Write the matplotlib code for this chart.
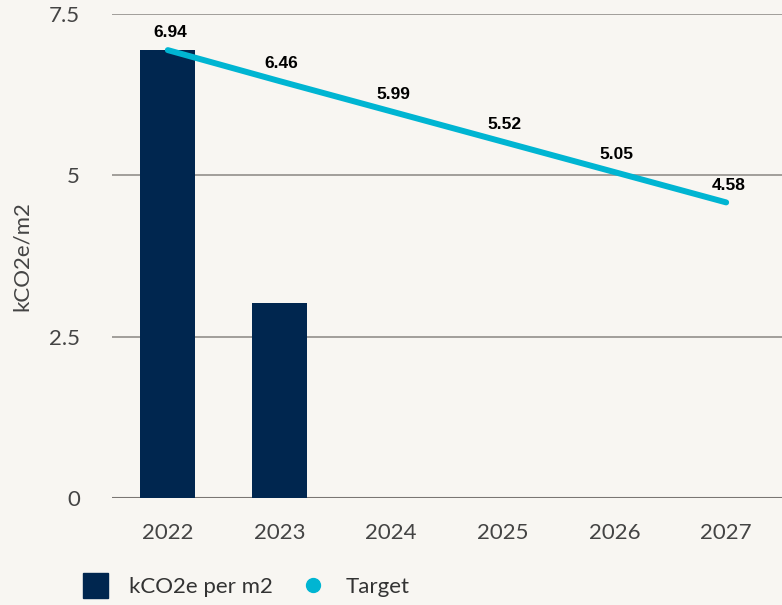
import matplotlib
matplotlib.use("Agg")
import matplotlib.pyplot as plt
from matplotlib.lines import Line2D
import numpy as np

years = ["2022", "2023", "2024", "2025", "2026", "2027"]
actual = [6.94, 3.02]
target = [6.94, 6.46, 5.99, 5.52, 5.05, 4.58]
target_labels = ["6.94", "6.46", "5.99", "5.52", "5.05", "4.58"]

navy = "#00264f"
cyan = "#00b5d2"
bg = "#f8f6f2"

plt.rcParams["font.family"] = ["Lato", "DejaVu Sans"]

fig = plt.figure(figsize=(7.82, 6.05), dpi=100, facecolor=bg)
ax = fig.add_axes([0.1432, 0.1769, 0.8568, 0.80])
ax.set_facecolor(bg)

x = np.arange(len(years))
ax.bar(x[:len(actual)], actual, width=0.49, color=navy, zorder=2)
ax.plot(x, target, color=cyan, lw=4.3, solid_capstyle="round", zorder=3)
for xi, yi, lab in zip(x, target, target_labels):
    ax.annotate(lab, (xi, yi), xytext=(1.5, 12.5), textcoords="offset points",
                ha="center", va="center", fontsize=12.5, fontweight="bold",
                family=["Liberation Sans", "DejaVu Sans"], color="black", zorder=4)

ax.set_xlim(-0.5, 5.5)
ax.set_ylim(0, 7.5)
ax.set_yticks([0, 2.5, 5, 7.5])
ax.set_yticklabels(["0", "2.5", "5", "7.5"])
ax.set_xticks(x)
ax.set_xticklabels(years)
ax.yaxis.grid(True, color="#8a8683", lw=1.1, zorder=0)
ax.set_axisbelow(True)
for s in ["top", "right", "left", "bottom"]:
    ax.spines[s].set_visible(False)
ax.axhline(0, color="#7a7673", lw=1.5, zorder=1)
ax.tick_params(axis="both", length=0, labelsize=16, labelcolor="#444444")
ax.tick_params(axis="y", pad=23)
ax.tick_params(axis="x", pad=18)
ax.set_ylabel("kCO2e/m2", fontsize=16, color="#444444")
ax.yaxis.set_label_coords(-0.119, 0.5)

handles = [
    Line2D([], [], marker="s", color=navy, linestyle="none", markersize=18),
    Line2D([], [], marker="o", color=cyan, linestyle="none", markersize=10),
]
fig.legend(handles, ["kCO2e per m2", "Target"], loc="lower left",
           bbox_to_anchor=(0.068, -0.02), ncol=2, frameon=False, fontsize=16,
           labelcolor="#333333", handletextpad=0.5, columnspacing=0.8)

fig.savefig("out.png", dpi=100, facecolor=bg)
